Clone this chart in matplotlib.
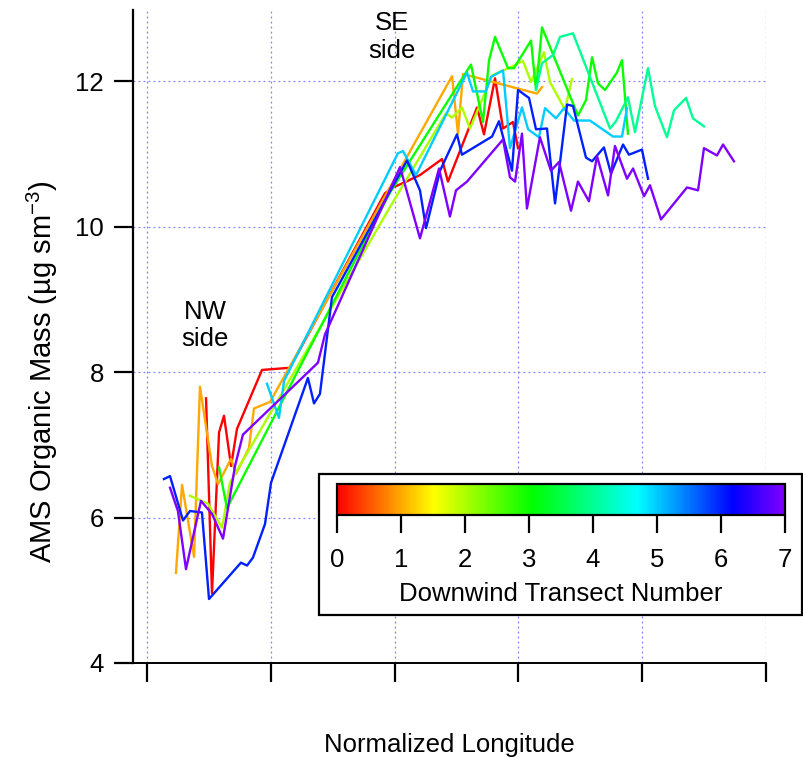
import numpy as np
import matplotlib
matplotlib.use("Agg")
import matplotlib.pyplot as plt
from matplotlib.colors import LinearSegmentedColormap, Normalize
from matplotlib.patches import Rectangle

plt.rcParams['font.family'] = 'Liberation Sans'
plt.rcParams['mathtext.fontset'] = 'custom'
plt.rcParams['mathtext.rm'] = 'Liberation Sans'
FS = 18.5

# normalized longitude / organic mass for each downwind transect
x0 = [0.477, 0.525, 0.582, 0.622, 0.679, 0.727, 0.929, 1.155, 1.922, 1.987, 2.068, 2.205,
      2.383, 2.431, 2.666, 2.722, 2.811, 2.876, 2.956, 2.997]
y0 = [7.64, 4.96, 7.17, 7.40, 6.71, 7.22, 8.03, 8.06, 10.46, 10.54, 10.60, 10.71,
      10.93, 10.62, 11.64, 11.27, 12.04, 11.35, 11.44, 11.08]

x1 = [0.234, 0.283, 0.380, 0.428, 0.525, 0.574, 0.679, 0.719, 0.824, 0.864, 0.994,
      2.464, 2.512, 2.553, 3.150, 3.191]
y1 = [5.24, 6.45, 5.46, 7.80, 6.71, 6.46, 6.81, 6.60, 6.96, 7.50, 7.59,
      12.07, 11.28, 12.10, 11.83, 11.92]

x2 = [0.347, 0.493, 0.606, 0.670, 1.963, 2.415, 2.464, 2.544, 2.609, 2.787, 2.932,
      3.037, 3.102, 3.207, 3.255, 3.376, 3.433]
y2 = [6.30, 6.19, 5.86, 6.48, 10.27, 11.56, 11.50, 11.64, 11.35, 12.08, 12.19,
      12.28, 11.99, 12.40, 11.99, 11.61, 12.03]

x3 = [0.582, 0.646, 1.963, 2.617, 2.714, 2.763, 2.811, 2.916, 2.964, 3.102, 3.142,
      3.191, 3.481, 3.546, 3.595, 3.643, 3.700, 3.796, 3.837, 3.885]
y3 = [6.69, 6.13, 10.47, 12.23, 11.44, 12.29, 12.61, 12.18, 12.18, 12.56, 11.88,
      12.74, 11.53, 11.74, 12.33, 11.97, 11.88, 12.12, 12.29, 11.28]

x4 = [3.142, 3.191, 3.280, 3.336, 3.441, 3.740, 3.788, 3.885, 3.942, 4.047, 4.103,
      4.200, 4.257, 4.354, 4.410, 4.499]
y4 = [11.88, 12.25, 12.36, 12.61, 12.66, 11.35, 11.45, 11.78, 11.30, 12.18, 11.66,
      11.23, 11.60, 11.77, 11.49, 11.38]

x5 = [0.969, 1.066, 1.107, 2.027, 2.068, 2.173, 2.585, 2.633, 2.738, 2.779, 2.876,
      2.932, 3.029, 3.078, 3.166, 3.215, 3.304, 3.368, 3.449, 3.578, 3.764, 3.837, 3.877]
y5 = [7.84, 7.37, 7.88, 11.01, 11.04, 10.71, 12.12, 11.86, 11.86, 12.06, 12.15,
      11.08, 11.64, 11.34, 11.23, 11.63, 11.49, 11.63, 11.46, 11.46, 11.24, 11.24, 11.63]

x6 = [0.137, 0.186, 0.291, 0.347, 0.444, 0.501, 0.759, 0.808, 0.856, 0.953, 1.002,
      1.300, 1.349, 1.397, 1.494, 2.100, 2.205, 2.254, 2.367, 2.504, 2.544, 2.787,
      2.843, 2.948, 2.997, 3.086, 3.142, 3.231, 3.296, 3.393, 3.441, 3.546, 3.595,
      3.691, 3.748, 3.845, 3.893, 3.998, 4.047]
y6 = [6.53, 6.57, 5.96, 6.09, 6.07, 4.88, 5.38, 5.34, 5.45, 5.91, 6.48,
      7.92, 7.57, 7.70, 9.03, 10.91, 10.50, 9.98, 10.77, 11.27, 10.99, 11.24,
      11.45, 10.77, 11.88, 11.77, 11.34, 11.35, 10.32, 11.68, 11.66, 10.95, 10.90,
      11.09, 10.73, 11.13, 10.99, 11.06, 10.66]

x7 = [0.186, 0.250, 0.315, 0.436, 0.525, 0.614, 0.711, 0.775, 1.381, 1.438, 2.044,
      2.205, 2.359, 2.447, 2.496, 2.585, 2.876, 2.932, 2.973, 3.029, 3.069, 3.174,
      3.263, 3.328, 3.425, 3.481, 3.570, 3.635, 3.724, 3.780, 3.877, 3.926, 4.015,
      4.063, 4.152, 4.362, 4.451, 4.499, 4.604, 4.653, 4.741]
y7 = [6.41, 6.09, 5.29, 6.23, 6.05, 5.71, 6.71, 7.14, 8.13, 8.52, 10.82,
      9.84, 10.80, 10.14, 10.50, 10.62, 11.20, 10.68, 10.62, 11.28, 10.25, 11.23,
      10.77, 10.89, 10.22, 10.62, 10.35, 10.97, 10.43, 11.11, 10.66, 10.80, 10.42,
      10.57, 10.10, 10.54, 10.50, 11.08, 10.98, 11.13, 10.90]

transects = [0, 1, 2, 3, 4, 5, 6, 7]
xs = [x0, x1, x2, x3, x4, x5, x6, x7]
ys = [y0, y1, y2, y3, y4, y5, y6, y7]

# rainbow: red -> yellow -> green -> cyan -> blue -> violet over 0..7
nodes = [(0.0, (1, 0, 0)), (1.5, (1, 1, 0)), (3.05, (0, 1, 0)),
         (4.7, (0, 1, 1)), (6.2, (0, 0, 1)), (7.0, (0.5, 0, 1))]
cmap = LinearSegmentedColormap.from_list('transect', [(v / 7.0, c) for v, c in nodes])
norm = Normalize(0, 7)

fig = plt.figure(figsize=(8.04, 7.58), dpi=100)
ax = fig.add_axes([133 / 804, 1 - 663 / 758, (766 - 133) / 804, (663 - 10) / 758])

for t, x, y in zip(transects, xs, ys):
    ax.plot(x, y, color=cmap(norm(t)), lw=1.7, zorder=3)

ax.set_xlim(-0.113, 5)
ax.set_ylim(4, 12.98)
ax.set_xticks(np.arange(0, 6))
ax.set_xticklabels([])
ax.set_yticks([4, 6, 8, 10, 12])
ax.grid(True, color='#8080ff', lw=0.9, linestyle=(0, (1.5, 2.5)))
ax.set_axisbelow(True)
for s in ['top', 'right']:
    ax.spines[s].set_visible(False)
ax.spines['left'].set_linewidth(1.6)
ax.spines['bottom'].set_linewidth(1.4)
ax.tick_params(axis='both', direction='out', length=14, width=1.6, labelsize=FS, pad=7)

ax.set_ylabel('AMS Organic Mass (µg sm$^{\\mathregular{-3}}$)', fontsize=21)
ax.yaxis.set_label_coords(-0.115, 0.446)
ax.set_xlabel('Normalized Longitude', fontsize=FS)
ax.xaxis.set_label_coords(0.5, -0.107)

ax.text(0.468, 8.64, 'NW\nside', fontsize=FS, ha='center', va='center', multialignment='center')
ax.text(1.979, 12.61, 'SE\nside', fontsize=FS, ha='center', va='center', multialignment='center')

# colour scale in a framed box
box = Rectangle((319 / 804, 1 - 615 / 758), (802 - 319) / 804, (615 - 474) / 758,
                transform=fig.transFigure, facecolor='white', edgecolor='black',
                lw=1.6, zorder=5)
fig.add_artist(box)

cax = fig.add_axes([337 / 804, 1 - 515 / 758, (785 - 337) / 804, (515 - 484) / 758])
cax.set_zorder(6)
sm = plt.cm.ScalarMappable(norm=norm, cmap=cmap)
cb = fig.colorbar(sm, cax=cax, orientation='horizontal', ticks=transects)
cb.outline.set_linewidth(1.6)
cb.ax.tick_params(direction='out', length=13, width=1.6, labelsize=FS, pad=11)
fig.text(561 / 804, 1 - 601 / 758, 'Downwind Transect Number', fontsize=FS,
         ha='center', va='baseline', zorder=7)

fig.savefig('out.png', dpi=100)
